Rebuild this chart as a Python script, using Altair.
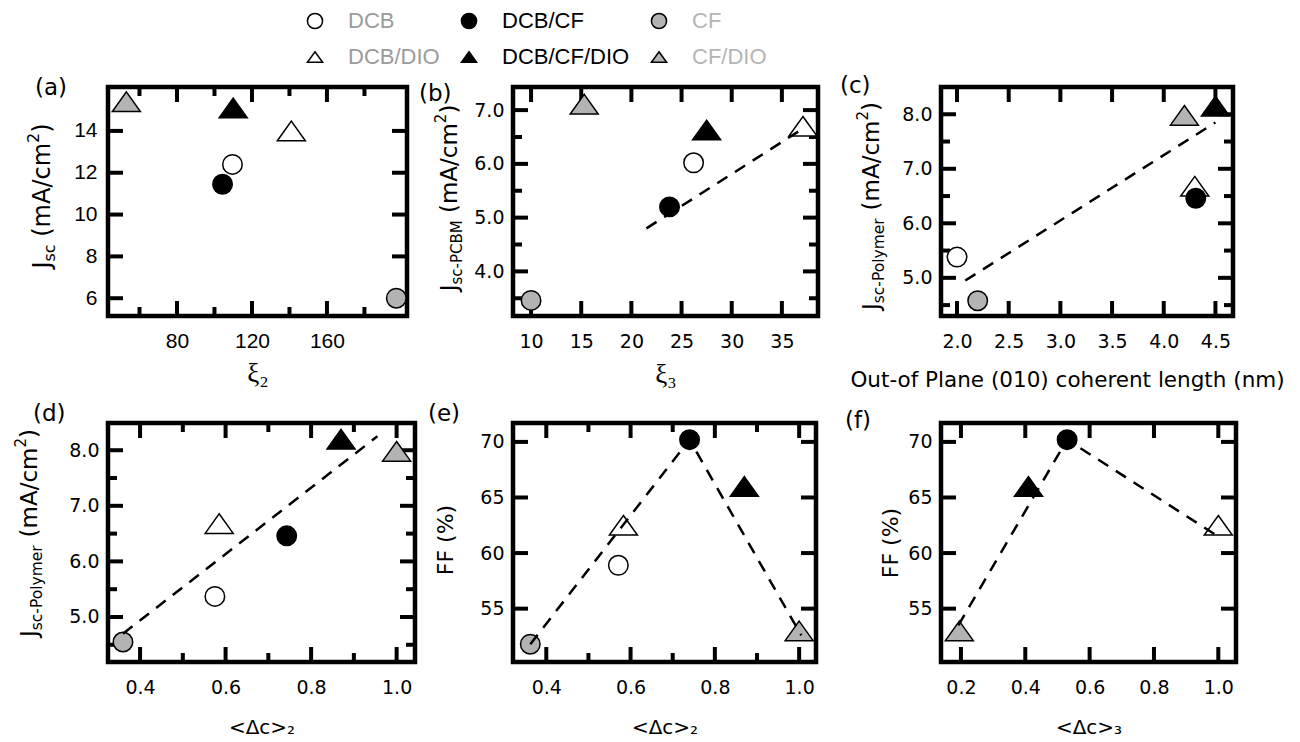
import altair as alt
import pandas as pd

# ---------------- data ----------------
# legend order is column-major: (DCB, DCB/DIO) (DCB/CF, DCB/CF/DIO) (CF, CF/DIO)
GROUPS = ["DCB", "DCB/DIO", "DCB/CF", "DCB/CF/DIO", "CF", "CF/DIO"]
KINDS = ["circle", "triangle", "circle", "triangle", "circle", "triangle"]
FILL = ["white", "white", "black", "black", "#b3b3b3", "#b3b3b3"]
EDGE = ["black", "black", "black", "black", "black", "black"]
FILL_D = ["white", "white", "black", "black", "#c4c4c4", "#c4c4c4"]
EDGE_D = ["#8c8c8c", "#8c8c8c", "black", "black", "#c4c4c4", "#c4c4c4"]
LEGEND_TEXT = ["#9b9b9b", "#9b9b9b", "black", "black", "#b5b5b5", "#b5b5b5"]

# (a) Jsc vs xi2
A_X = [109.6, 141.0, 104.3, 110.0, 197.0, 53.0]
A_Y = [12.4, 14.0, 11.45, 15.1, 6.0, 15.4]
# (b) Jsc-PCBM vs xi3
B_X = [26.2, 37.1, 23.8, 27.5, 10.0, 15.3]
B_Y = [6.02, 6.70, 5.2, 6.63, 3.46, 7.11]
B_LX = [21.5, 37.3]
B_LY = [4.8, 6.68]
# (c) Jsc-Polymer vs coherence length
C_X = [2.0, 4.30, 4.31, 4.50, 2.2, 4.20]
C_Y = [5.38, 6.68, 6.46, 8.15, 4.58, 7.98]
C_LX = [2.08, 4.5]
C_LY = [4.95, 7.85]
# (d) Jsc-Polymer vs <dc>2
D_X = [0.575, 0.585, 0.743, 0.87, 0.36, 1.0]
D_Y = [5.37, 6.68, 6.46, 8.2, 4.55, 7.98]
D_LX = [0.36, 0.955]
D_LY = [4.7, 8.25]
# (e) FF vs <dc>2
E_X = [0.571, 0.583, 0.74, 0.87, 0.362, 1.0]
E_Y = [58.9, 62.5, 70.2, 66.0, 51.8, 53.0]
E_LX = [0.362, 0.74, 1.005]
E_LY = [51.8, 70.2, 52.6]
# (f) FF vs <dc>3
F_G = ["DCB/DIO", "DCB/CF", "DCB/CF/DIO", "CF/DIO"]
F_X = [1.0, 0.53, 0.41, 0.195]
F_Y = [62.5, 70.2, 66.0, 53.0]
F_LX = [0.192, 0.53, 1.01]
F_LY = [53.5, 70.2, 61.3]

# tick values (labelled / minor)
A_XT, A_XM, A_YT, A_YM = [80, 120, 160], [60, 100, 140, 180], [6, 8, 10, 12, 14], []
B_XT, B_XM, B_YT, B_YM = [10, 15, 20, 25, 30, 35], [], [4, 5, 6, 7], [3.5, 4.5, 5.5, 6.5]
C_XT, C_XM, C_YT, C_YM = [2.0, 2.5, 3.0, 3.5, 4.0, 4.5], [], [5, 6, 7, 8], [4.5, 5.5, 6.5, 7.5]
D_XT, D_XM, D_YT, D_YM = [0.4, 0.6, 0.8, 1.0], [0.5, 0.7, 0.9], [5, 6, 7, 8], [4.5, 5.5, 6.5, 7.5]
E_XT, E_XM, E_YT, E_YM = [0.4, 0.6, 0.8, 1.0], [0.5, 0.7, 0.9], [55, 60, 65, 70], []
F_XT, F_XM, F_YT, F_YM = [0.2, 0.4, 0.6, 0.8, 1.0], [], [55, 60, 65, 70], []

# ---------------- helpers ----------------
TRI = "M0,-0.7L1,0.7L-1,0.7Z"
SHAPES = ["circle" if k == "circle" else TRI for k in KINDS]
CHAR_W = {"J": 0.295, "s": 0.521, "c": 0.55, "-": 0.361, "P": 0.603, "C": 0.698,
          "B": 0.686, "M": 0.863, "o": 0.612, "l": 0.278, "y": 0.592, "m": 0.974,
          "e": 0.615, "r": 0.411, " ": 0.318, "(": 0.39, ")": 0.39, "A": 0.684,
          "/": 0.337, "2": 0.636, "F": 0.575, "%": 0.95}
ONE = pd.DataFrame({"a": [0]})


def tw(s, size):
    return sum(CHAR_W.get(ch, 0.6) for ch in s) * size


def y_title(pieces, x0, yc):
    total = sum(tw(t, s) for t, s, _ in pieces)
    ybot = yc + total / 2
    out, cum = [], 0.0
    for t, s, shift in pieces:
        lead = len(t) - len(t.lstrip(" "))
        start = cum + tw(" " * lead, s)
        out.append(alt.Chart(ONE).mark_text(
            text=t.strip(), angle=270, align="left", baseline="alphabetic", dx=start, dy=shift,
            font="DejaVu Sans", fontSize=s, color="black").encode(
            x=alt.value(x0), y=alt.value(ybot)))
        cum += tw(t, s)
    return out


expr = "".join(f"datum.value === '{g}' ? '{c}' : " for g, c in zip(GROUPS, LEGEND_TEXT)) + "'black'"
LEG = alt.Legend(title=None, orient="none", legendX=196, legendY=-77, columns=3,
                 columnPadding=18, rowPadding=14, symbolSize=230, symbolStrokeWidth=1.5,
                 labelFont="Liberation Sans", labelFontSize=22, labelOffset=22,
                 padding=0, labelLimit=300, labelColor=alt.ExprRef(expr=expr))


def make_panel(g, xv, yv, lx, ly, xdom, ydom, w, h, xt, xm, yt, ym, xfmt, yfmt,
               fills, edges, tag, tag_pos, ypieces, ypos, xaxis_kw,
               label_font="DejaVu Sans", label_size=19, ylab_pad=9, xlab_pad=16,
               legend=False):
    sx = alt.Scale(domain=xdom, nice=False, zero=False)
    sy = alt.Scale(domain=ydom, nice=False, zero=False)
    ax = alt.Axis(values=xt, format=xfmt, grid=False, ticks=False, domain=False,
                  labelPadding=xlab_pad, labelFont=label_font, labelFontSize=label_size,
                  labelColor="black", labelFlush=False, labelOverlap=False,
                  titleColor="black", titleFontWeight="normal", titleBaseline="middle",
                  **xaxis_kw)
    ay = alt.Axis(values=yt, format=yfmt, grid=False, ticks=False, domain=False,
                  labelPadding=ylab_pad, labelFont=label_font, labelFontSize=label_size,
                  labelColor="black", labelFlush=False, labelOverlap=False, title=None)
    X = alt.X("x:Q", scale=sx, axis=ax)
    Y = alt.Y("y:Q", scale=sy, axis=ay)
    layers = []
    for vals, L in ((xt, 15), (xm, 9)):
        if vals:
            d = pd.DataFrame({"x": vals})
            layers.append(alt.Chart(d).mark_rule(color="black", strokeWidth=4).encode(
                x=X, y=alt.value(h), y2=alt.value(h - L)))
            layers.append(alt.Chart(d).mark_rule(color="black", strokeWidth=4).encode(
                x=X, y=alt.value(0), y2=alt.value(L)))
    for vals, L in ((yt, 15), (ym, 9)):
        if vals:
            d = pd.DataFrame({"y": vals})
            layers.append(alt.Chart(d).mark_rule(color="black", strokeWidth=4).encode(
                y=Y, x=alt.value(0), x2=alt.value(L)))
            layers.append(alt.Chart(d).mark_rule(color="black", strokeWidth=4).encode(
                y=Y, x=alt.value(w), x2=alt.value(w - L)))
    pts = pd.DataFrame({"x": xv, "y": yv, "g": g,
                        "k": [KINDS[GROUPS.index(v)] for v in g]})
    leg = LEG if legend else None
    enc = dict(
        x=X, y=Y,
        fill=alt.Fill("g:N", scale=alt.Scale(domain=GROUPS, range=fills), legend=leg),
        stroke=alt.Stroke("g:N", scale=alt.Scale(domain=GROUPS, range=edges), legend=leg),
        shape=alt.Shape("g:N", scale=alt.Scale(domain=GROUPS, range=SHAPES), legend=leg),
    )
    layers.append(alt.Chart(pts).transform_filter("datum.k == 'triangle'").mark_point(
        filled=True, size=784, strokeWidth=1.5, opacity=1).encode(**enc))
    layers.append(alt.Chart(pts).transform_filter("datum.k == 'circle'").mark_point(
        filled=True, size=380, strokeWidth=1.5, opacity=1).encode(**enc))
    if lx:
        ld = pd.DataFrame({"x": lx, "y": ly})
        layers.append(alt.Chart(ld).mark_line(color="black", strokeWidth=2.5,
                                              strokeDash=[12, 9]).encode(x=X, y=Y))
    layers.append(alt.Chart(ONE).mark_text(
        text=tag, align="left", baseline="middle", font="DejaVu Sans", fontSize=23,
        color="black").encode(x=alt.value(tag_pos[0]), y=alt.value(tag_pos[1])))
    layers += y_title(ypieces, ypos[0], ypos[1])
    return alt.layer(*layers).properties(
        width=w, height=h,
        view=alt.ViewBackground(stroke="black", strokeWidth=4.5, fill="white"))


JSC = [("J", 24, 0), ("sc", 16, 5), (" (mA/cm", 24, 0), ("2", 16, -11), (")", 24, 0)]
JPC = [("J", 23, 0), ("sc-PCBM", 15, 5), (" (mA/cm", 23, 0), ("2", 15, -11), (")", 23, 0)]
JPO = [("J", 23, 0), ("sc-Polymer", 15.5, 5), (" (mA/cm", 23, 0), ("2", 15, -11), (")", 23, 0)]
FF = [("FF (%)", 22, 0)]

H1, H2 = 229, 239

pa = make_panel(GROUPS, A_X, A_Y, [], [], [43.2, 202.7], [5.15, 16.1], 299, H1,
                A_XT, A_XM, A_YT, A_YM, "d", "d", FILL, EDGE, "(a)", (-73, 1),
                JSC, (-58, 109),
                dict(title="ξ₂", titleFont="Liberation Serif", titleFontSize=27, titleY=57),
                label_font="Liberation Sans", label_size=21, ylab_pad=11, xlab_pad=14,
                legend=True)
pb = make_panel(GROUPS, B_X, B_Y, B_LX, B_LY, [8.2, 38.6], [3.17, 7.43], 305, H1,
                B_XT, B_XM, B_YT, B_YM, "d", ".1f", FILL, EDGE, "(b)", (-94, 7),
                JPC, (-56, 111),
                dict(title="ξ₃", titleFont="Liberation Serif", titleFontSize=27, titleY=58))
pc = make_panel(GROUPS, C_X, C_Y, C_LX, C_LY, [1.845, 4.67], [4.30, 8.50], 292, H1,
                C_XT, C_XM, C_YT, C_YM, ".1f", ".1f", FILL, EDGE, "(c)", (-101, -1),
                JPO, (-62, 119),
                dict(title="Out-of Plane (010) coherent length (nm)", titleFont="DejaVu Sans",
                     titleFontSize=21.5, titleY=64, titleX=126))
pd_ = make_panel(GROUPS, D_X, D_Y, D_LX, D_LY, [0.325, 1.043], [4.19, 8.49], 307, H2,
                 D_XT, D_XM, D_YT, D_YM, ".1f", ".1f", FILL_D, EDGE_D, "(d)", (-75, -9),
                 JPO, (-71, 110),
                 dict(title="<Δc>₂", titleFont="DejaVu Sans", titleFontSize=20, titleY=65))
pe = make_panel(GROUPS, E_X, E_Y, E_LX, E_LY, [0.321, 1.04], [50.2, 71.7], 303, H2,
                E_XT, E_XM, E_YT, E_YM, ".1f", "d", FILL, EDGE, "(e)", (-85, -9),
                FF, (-60, 117),
                dict(title="<Δc>₂", titleFont="DejaVu Sans", titleFontSize=20, titleY=65))
pf = make_panel(F_G, F_X, F_Y, F_LX, F_LY, [0.138, 1.055], [50.2, 71.7], 295, H2,
                F_XT, F_XM, F_YT, F_YM, ".1f", "d", FILL, EDGE, "(f)", (-96, -2),
                FF, (-43, 120),
                dict(title="<Δc>₃", titleFont="DejaVu Sans", titleFontSize=20, titleY=65))


def spacer(wd):
    return alt.Chart(ONE).mark_point(opacity=0).encode(
        x=alt.value(0), y=alt.value(0)).properties(width=wd, height=10)


chart = alt.concat(
    pa, spacer(98), pb, spacer(123), pc,
    pd_, spacer(98), pe, spacer(123), pf,
    columns=5, spacing={"row": 107, "column": 0}, bounds="flush",
).properties(
    padding={"left": 3, "top": 2, "right": 5, "bottom": 5}
).configure_view(strokeWidth=0)

chart.save("out.html", embed_options={"renderer": "svg", "actions": False})
